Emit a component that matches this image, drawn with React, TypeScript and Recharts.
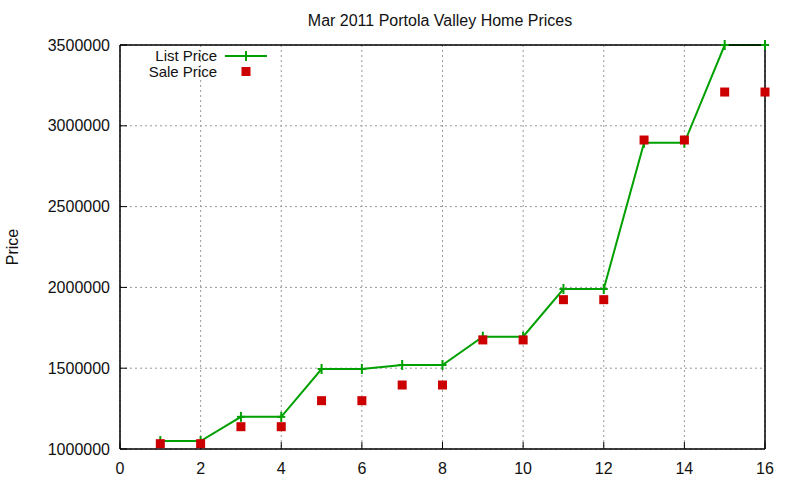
import { LineChart, Line, XAxis, YAxis, CartesianGrid } from 'recharts';

const houses = [1, 2, 3, 4, 5, 6, 7, 8, 9, 10, 11, 12, 13, 14, 15, 16];
const listPrices = [1049000, 1049000, 1199000, 1199000, 1495000, 1495000, 1520000, 1520000, 1695000, 1695000, 1990000, 1990000, 2895000, 2895000, 3500000, 3500000];
const salePrices = [1033000, 1033000, 1138000, 1138000, 1299000, 1299000, 1396000, 1396000, 1675000, 1675000, 1924000, 1924000, 2912000, 2912000, 3209000, 3209000];
const xTicks = [0, 2, 4, 6, 8, 10, 12, 14, 16];
const yTicks = [1000000, 1500000, 2000000, 2500000, 3000000, 3500000];

const GREEN = '#00a000';
const RED = '#cc0000';
const INK = '#111';
const FONT = '"Liberation Sans", Arial, sans-serif';

const chartData = houses.map((h, i) => ({ house: h, list: listPrices[i], sale: salePrices[i] }));

// gnuplot-style "+" marker
const PlusDot = (props: any) => {
    const { cx, cy } = props;
    if (cx == null || cy == null) return null;
    return (
        <g>
            <line x1={cx - 4} y1={cy} x2={cx + 4} y2={cy} stroke={GREEN} strokeWidth={2} />
            <line x1={cx} y1={cy - 5} x2={cx} y2={cy + 5} stroke={GREEN} strokeWidth={2} />
        </g>
    );
};

// filled square marker
const SquareDot = (props: any) => {
    const { cx, cy } = props;
    if (cx == null || cy == null) return null;
    return <rect x={cx - 4.5} y={cy - 4.5} width={9} height={9} fill={RED} />;
};

export default function App() {
    return (
        <div style={{ position: 'absolute', left: 0, top: 0, width: 800, height: 480, background: '#fff', fontFamily: FONT }}>
            <LineChart
                width={800}
                height={480}
                data={chartData}
                margin={{ top: 44, right: 34, bottom: 0, left: 0 }}
            >
                <CartesianGrid xAxisId="b" yAxisId="l" stroke="#999" strokeDasharray="2 3" />
                <XAxis
                    xAxisId="b"
                    dataKey="house"
                    type="number"
                    domain={[0, 16]}
                    ticks={xTicks}
                    height={31}
                    axisLine={{ stroke: '#000', strokeWidth: 1.5 }}
                    tickLine={{ stroke: '#000' }}
                    tickSize={-7}
                    tickMargin={21}
                    tick={{ fill: INK, fontSize: 16, fontFamily: FONT }}
                />
                <XAxis
                    xAxisId="t"
                    orientation="top"
                    dataKey="house"
                    type="number"
                    domain={[0, 16]}
                    ticks={xTicks}
                    height={1}
                    axisLine={{ stroke: '#000', strokeWidth: 1.5 }}
                    tickLine={{ stroke: '#000' }}
                    tickSize={-7}
                    tick={false}
                />
                <YAxis
                    yAxisId="l"
                    type="number"
                    domain={[1000000, 3500000]}
                    ticks={yTicks}
                    width={120}
                    axisLine={{ stroke: '#000', strokeWidth: 1.5 }}
                    tickLine={{ stroke: '#000' }}
                    tickSize={-7}
                    tickMargin={17}
                    tick={{ fill: INK, fontSize: 16, fontFamily: FONT }}
                />
                <YAxis
                    yAxisId="r"
                    orientation="right"
                    type="number"
                    domain={[1000000, 3500000]}
                    ticks={yTicks}
                    width={1}
                    axisLine={{ stroke: '#000', strokeWidth: 1.5 }}
                    tickLine={{ stroke: '#000' }}
                    tickSize={-7}
                    tick={false}
                />
                <Line
                    xAxisId="b"
                    yAxisId="l"
                    type="linear"
                    dataKey="list"
                    stroke={GREEN}
                    strokeWidth={2}
                    dot={<PlusDot />}
                    activeDot={false}
                    isAnimationActive={false}
                />
                <Line
                    xAxisId="b"
                    yAxisId="l"
                    type="linear"
                    dataKey="sale"
                    stroke="none"
                    dot={<SquareDot />}
                    activeDot={false}
                    isAnimationActive={false}
                />
            </LineChart>

            {/* title, y label and key, gnuplot style */}
            <svg width={800} height={480} style={{ position: 'absolute', left: 0, top: 0, pointerEvents: 'none' }}>
                <text x={440} y={26} textAnchor="middle" fontSize={16} fill={INK} fontFamily={FONT}>
                    Mar 2011 Portola Valley Home Prices
                </text>
                <text x={18} y={247} textAnchor="middle" fontSize={16} fill={INK} fontFamily={FONT} transform="rotate(-90 18 247)">
                    Price
                </text>
                <text x={217} y={61} textAnchor="end" fontSize={15} fill={INK} fontFamily={FONT}>List Price</text>
                <line x1={225} y1={56} x2={267} y2={56} stroke={GREEN} strokeWidth={2} />
                <line x1={246} y1={51} x2={246} y2={61} stroke={GREEN} strokeWidth={2} />
                <text x={217} y={77} textAnchor="end" fontSize={15} fill={INK} fontFamily={FONT}>Sale Price</text>
                <rect x={241.5} y={67} width={9} height={9} fill={RED} />
            </svg>
        </div>
    );
}
